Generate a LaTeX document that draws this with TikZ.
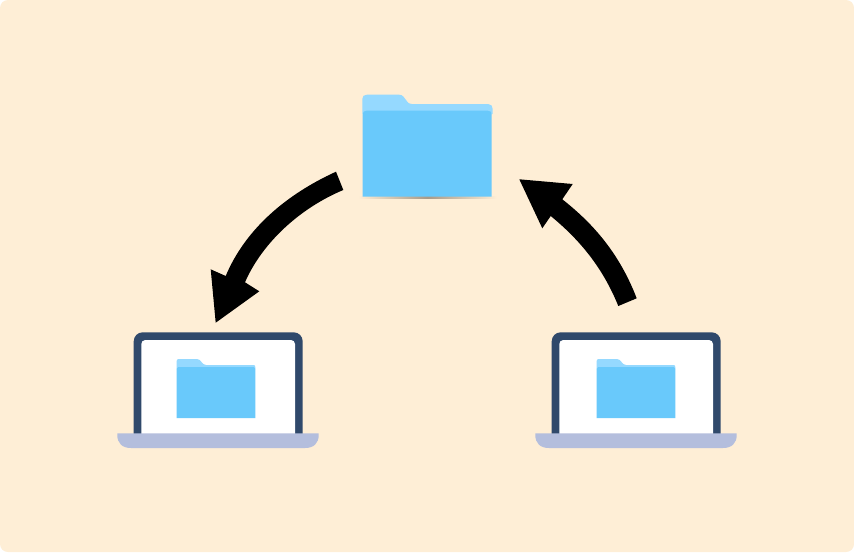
\documentclass[tikz,border=0pt]{standalone}
\definecolor{bgc}{HTML}{FEEED6}
\definecolor{front}{HTML}{69C9FB}
\definecolor{back}{HTML}{95D9FF}
\definecolor{frame}{HTML}{30496B}
\definecolor{basec}{HTML}{B4BEDD}
\definecolor{shadowc}{HTML}{A89A88}
\tikzset{
  x=1pt,y=-1pt,
  arrowshape/.style={fill=black,draw=none},
  pics/laptop/.style={code={
    \fill[frame,rounded corners=9pt] (133.7,445) -- (133.7,332.3) -- (302.7,332.3) -- (302.7,445) -- cycle;
    \fill[white,rounded corners=4pt] (141.3,445) -- (141.3,340) -- (295,340) -- (295,445) -- cycle;
    \fill[basec] (117.3,433.3) -- (318.7,433.3) -- (318.7,435) .. controls (318.7,443) and (314,448) .. (305,448) -- (131,448) .. controls (122,448) and (117.3,443) .. (117.3,435) -- cycle;
  }},
  pics/smallfolder/.style={code={
    \fill[back] (176.7,369) -- (176.7,361) .. controls (176.7,359.6) and (177.5,359) .. (179,359) -- (197,359) .. controls (201,359) and (202,365) .. (206,365) -- (253.5,365) .. controls (254.8,365) and (255.3,365.7) .. (255.3,367) -- (255.3,369) -- cycle;
    \fill[front] (176.7,418) -- (176.7,369) .. controls (176.7,368) and (177,367.2) .. (178,367.2) -- (254,367.2) .. controls (255,367.2) and (255.3,368) .. (255.3,369) -- (255.3,418) -- cycle;
  }}
}
\begin{document}
\begin{tikzpicture}
\useasboundingbox (0,0) rectangle (854,552);
\fill[white] (0,0) rectangle (854,552);
\fill[bgc,rounded corners=8pt] (0,0) rectangle (854,552);
% big folder
\shade[left color=bgc,right color=bgc,middle color=shadowc] (358,196) rectangle (497,198);
\fill[back] (362.3,114) -- (362.3,99) .. controls (362.3,96) and (364,94.7) .. (367,94.7) -- (399,94.7) .. controls (406,94.7) and (405,104) .. (412,104) -- (488,104) .. controls (491,104) and (492.7,106) .. (492.7,109) -- (492.7,114) -- cycle;
\fill[front] (362.6,196.7) -- (362.6,114.7) .. controls (362.6,112) and (364,110.7) .. (366.6,110.7) -- (487.7,110.7) .. controls (490.5,110.7) and (491.7,112) .. (491.7,114.7) -- (491.7,196.7) -- cycle;
% laptops
\pic at (0,0) {laptop};
\pic at (418,0) {laptop};
\pic at (0,0) {smallfolder};
\pic at (420,0) {smallfolder};
% left arrow
\fill[arrowshape] (336,171.7) .. controls (285,195) and (245,230) .. (225.7,276)
  -- (210.7,269.3) -- (215.7,322.7) -- (259.3,291.3) -- (245,282.3)
  .. controls (262,243) and (300,208) .. (343.3,190) -- cycle;
% right arrow
\fill[arrowshape] (636.7,298.3) .. controls (620,255) and (595,225) .. (562.3,199.3)
  -- (572.7,184) -- (519.3,179.3) -- (542.3,228.3) -- (550.7,216)
  .. controls (580,240) and (603,268) .. (618.3,306) -- cycle;
\end{tikzpicture}
\end{document}
